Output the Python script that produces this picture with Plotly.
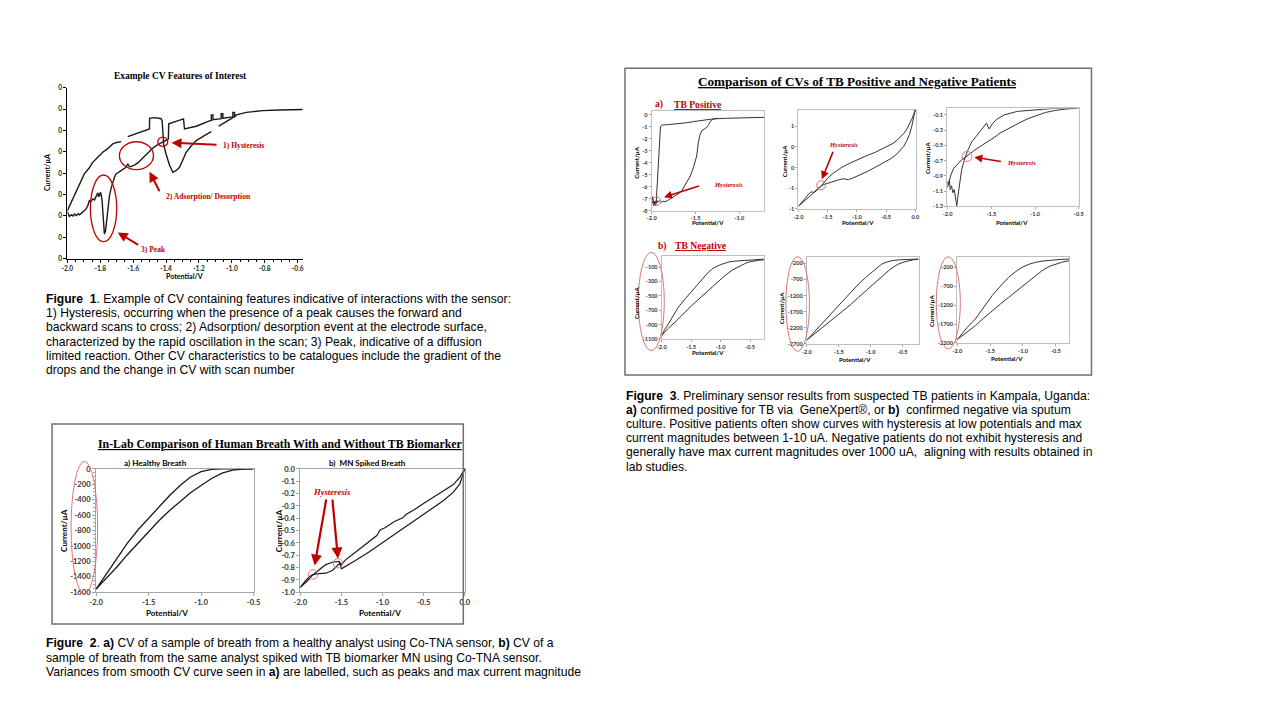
import plotly.graph_objects as go

W, H = 1280, 720
# the photographed page comes out slightly shrunk about its centre; compensate
S, OX, OY = 0.988, 7.7, 3.2
def px(x): return ((x - OX) / S) / W
def py(y): return 1 - ((y - OY) / S) / H
def fs(s): return s / S

# ---------------- DATA ----------------
# Figure 1 : example CV (arbitrary current units, tick labels all "0")
fig1_scan_a_x = [-2.0, -1.985, -1.968, -1.95, -1.937, -1.92, -1.897, -1.87, -1.846, -1.815, -1.785, -1.755,
                 -1.724, -1.70, -1.673, None, -1.633, -1.60, -1.562, -1.53, -1.501, -1.500, -1.47, -1.444,
                 -1.43, -1.424, -1.418, -1.414, -1.40, -1.38, -1.359, -1.34, -1.318, -1.278, -1.25, -1.217,
                 -1.17, -1.125, None, -1.08, -1.04, -1.0, -0.973]
fig1_scan_a_y = [2.25, 2.5, 2.8, 3.05, 3.34, 3.6, 3.97, 4.22, 4.51, 4.75, 4.98, 5.15,
                 5.37, 5.44, 5.48, None, 5.71, 5.8, 5.92, 6.0, 6.07, 6.57, 6.6, 6.57,
                 6.55, 6.45, 5.8, 5.3, 4.9, 4.4, 4.04, 4.12, 4.28, 4.98, 5.25, 5.53,
                 5.75, 5.95, None, 6.2, 6.4, 6.58, 6.70]
fig1_scan_b_x = [-2.0, -1.994, -1.988, -1.975, -1.965, -1.957, -1.945, -1.935, -1.927, -1.915, -1.907, -1.896,
                 -1.886, -1.875, -1.866, -1.856, -1.846, -1.835, -1.825, -1.815, -1.81, -1.805, -1.80, -1.795,
                 -1.789, -1.782, -1.775, -1.768, -1.761, -1.752, -1.744, -1.734, -1.724, -1.714, -1.704, -1.69,
                 -1.673, -1.658, -1.643, -1.633, -1.622, -1.612, -1.592, -1.572, -1.55, -1.531, -1.515, -1.501,
                 -1.48, -1.46, -1.44, -1.42, -1.405, -1.39, -1.386, -1.384, -1.35, -1.318, -1.294, -1.288,
                 -1.217, -1.136, -1.125, -1.125, -1.115, -1.115, -1.095, -1.065, -1.065, -1.055, -1.055, -1.034,
                 -0.994, -0.994, -0.984, -0.984, -0.973, -0.912, -0.811, -0.71, -0.568]
fig1_scan_b_y = [2.20, 2.05, 1.98, 2.05, 2.0, 2.09, 2.02, 2.1, 2.05, 2.12, 2.17, 2.25,
                 2.33, 2.5, 2.72, 2.68, 2.80, 2.75, 2.95, 3.08, 2.9, 2.95, 3.1, 3.03,
                 2.72, 1.9, 1.16, 1.3, 1.86, 2.5, 2.95, 3.3, 3.57, 3.8, 3.97, 4.05,
                 4.12, 4.2, 4.28, 4.44, 4.3, 4.32, 4.38, 4.48, 4.65, 4.82, 4.95, 5.06,
                 5.18, 5.29, 5.38, 5.48, 5.52, 5.57, 5.60, 6.31, 6.4, 6.5, 6.54, 6.07,
                 6.20, 6.45, 6.47, 6.73, 6.73, 6.50, 6.51, 6.55, 6.78, 6.78, 6.57, 6.59,
                 6.64, 6.85, 6.85, 6.68, 6.73, 6.85, 6.93, 6.96, 6.98]
fig1_xticks = [-2.0, -1.8, -1.6, -1.4, -1.2, -1.0, -0.8, -0.6]
fig1_xlabels = ["-2.0", "-1.8", "-1.6", "-1.4", "-1.2", "-1.0", "-0.8", "-0.6"]
fig1_yticks = [0, 1, 2, 3, 4, 5, 6, 7, 8]
fig1_ylabels = ["0"] * 9

# Figure 2a : healthy breath
healthy_x = [-2.0, -1.9, -1.8, -1.7, -1.6, -1.5, -1.4, -1.3, -1.2, -1.1, -1.0, -0.9, -0.8, -0.7, -0.6, -0.5]
healthy_fwd = [-1560, -1360, -1160, -960, -790, -640, -490, -345, -215, -105, -35, -6, 0, 0, 0, 0]
healthy_rev = [-1560, -1420, -1270, -1110, -960, -810, -670, -540, -420, -310, -215, -125, -55, -15, -3, 0]
fig2a_xticks = [-2.0, -1.5, -1.0, -0.5]
fig2a_xlabels = ["-2.0", "-1.5", "-1.0", "-0.5"]
fig2a_yticks = [0, -200, -400, -600, -800, -1000, -1200, -1400, -1600]
fig2a_ylabels = ["0", "-200", "-400", "-600", "-800", "-1000", "-1200", "-1400", "-1600"]

# Figure 2b : MN spiked breath
spiked_a_x = [-2.0, -1.91, -1.85, -1.77, -1.69, -1.61, -1.53, -1.50, -1.45, -1.33, -1.21, -1.07, -1.03,
              -0.97, -0.855, -0.755, -0.716, -0.616, -0.497, -0.378, -0.258, -0.139, -0.06, 0.0]
spiked_a_y = [-0.96, -0.905, -0.86, -0.816, -0.776, -0.757, -0.751, -0.776, -0.738, -0.676, -0.614, -0.541,
              -0.495, -0.478, -0.427, -0.397, -0.370, -0.332, -0.278, -0.23, -0.181, -0.127, -0.068, 0.0]
spiked_b_x = [-2.0, -1.93, -1.87, -1.81, -1.69, -1.61, -1.55, -1.52, -1.50, -1.45, -1.33, -1.17, -1.01,
              -0.815, -0.616, -0.417, -0.258, -0.139, -0.06, 0.0]
spiked_b_y = [-0.96, -0.90, -0.865, -0.851, -0.846, -0.824, -0.784, -0.765, -0.81, -0.792, -0.743, -0.676,
              -0.603, -0.514, -0.424, -0.332, -0.257, -0.189, -0.122, 0.0]
fig2b_xticks = [-2.0, -1.5, -1.0, -0.5, 0.0]
fig2b_xlabels = ["-2.0", "-1.5", "-1.0", "-0.5", "0.0"]
fig2b_yticks = [0.0, -0.1, -0.2, -0.3, -0.4, -0.5, -0.6, -0.7, -0.8, -0.9, -1.0]
fig2b_ylabels = ["0.0", "-0.1", "-0.2", "-0.3", "-0.4", "-0.5", "-0.6", "-0.7", "-0.8", "-0.9", "-1.0"]

# Figure 3a : TB positive patients
pos1_a_x = [-1.99, -1.98, -1.97, -1.96, -1.95, -1.94, -1.93, -1.92, -1.91, -1.90, -1.89, -1.875, -1.80,
            -1.715, -1.60, -1.525, -1.45, -1.373, -1.30, -1.145, -1.0, -0.85, -0.715]
pos1_a_y = [-7.0, -7.5, -7.2, -7.55, -7.5, -6.0, -4.5, -3.0, -1.8, -1.0, -0.87, -0.84, -0.8,
            -0.76, -0.65, -0.56, -0.47, -0.39, -0.33, -0.28, -0.25, -0.22, -0.2]
pos1_b_x = [-1.995, -1.99, -1.985, -1.975, -1.965, -1.955, -1.945, -1.93, -1.91, -1.89, -1.87, -1.85, -1.83,
            -1.76, -1.70, -1.66, -1.60, -1.56, -1.525, -1.487, -1.468, -1.462, -1.458, -1.455, -1.45, -1.43,
            -1.40, -1.373, -1.35, -1.335, -1.30, -1.27, -1.24]
pos1_b_y = [-6.8, -7.4, -6.9, -7.6, -7.2, -7.4, -7.1, -7.3, -7.15, -7.3, -7.2, -7.25, -7.2,
            -6.9, -6.6, -6.38, -5.67, -5.1, -4.41, -3.43, -2.3, -2.1, -1.95, -2.05, -1.7, -1.32,
            -1.15, -1.04, -0.8, -0.56, -0.34, -0.3, -0.28]
pos1_xticks = [-2.0, -1.5, -1.0]
pos1_xlabels = ["-2.0", "-1.5", "-1.0"]
pos1_yticks = [0, -1, -2, -3, -4, -5, -6, -7, -8]
pos1_ylabels = ["0", "-1", "-2", "-3", "-4", "-5", "-6", "-7", "-8"]

pos2_a_x = [-2.0, -1.95, -1.9, -1.83, -1.75, -1.657, -1.57, -1.486, -1.40, -1.257, -1.10, -0.97, -0.83,
            -0.686, -0.55, -0.40, -0.33, -0.257, -0.2, -0.143, -0.1, -0.057, -0.03, 0.0]
pos2_a_y = [-0.935, -0.87, -0.8, -0.72, -0.62, -0.516, -0.38, -0.234, -0.13, 0.008, 0.12, 0.21, 0.29,
            0.37, 0.46, 0.573, 0.64, 0.734, 0.82, 0.935, 1.04, 1.18, 1.28, 1.40]
pos2_b_x = [-2.0, -1.94, -1.886, -1.84, -1.80, -1.77, -1.743, -1.70, -1.657, -1.571, -1.47, -1.371, -1.30,
            -1.229, -1.18, -1.143, -1.05, -0.97, -0.83, -0.686, -0.55, -0.429, -0.33, -0.257, -0.2, -0.143,
            -0.1, -0.057, -0.03, 0.0]
pos2_b_y = [-0.935, -0.84, -0.758, -0.66, -0.6, -0.585, -0.6, -0.55, -0.49, -0.41, -0.36, -0.32, -0.29,
            -0.27, -0.28, -0.29, -0.24, -0.194, -0.1, 0.008, 0.11, 0.21, 0.31, 0.411, 0.51, 0.653,
            0.8, 1.016, 1.2, 1.40]
pos2_xticks = [-2.0, -1.5, -1.0, -0.5, 0.0]
pos2_xlabels = ["-2.0", "-1.5", "-1.0", "-0.5", "0.0"]
pos2_yticks = [1.0, 0.5, 0.0, -0.5, -1.0]
pos2_ylabels = ["1", "0", "0", "-1", "-1"]

pos3_a_x = [-2.0, -1.99, -1.98, -1.97, -1.955, -1.94, -1.925, -1.91, -1.895, -1.88, -1.86, -1.84, -1.80,
            -1.76, -1.72, -1.66, -1.60, -1.555, -1.54, -1.525, -1.51, -1.49, -1.44, -1.35, -1.20, -1.0,
            -0.8, -0.5]
pos3_a_y = [-0.98, -1.02, -0.95, -1.08, -1.03, -1.12, -1.08, -1.20, -1.29, -1.15, -0.95, -0.82, -0.66,
            -0.54, -0.45, -0.36, -0.28, -0.21, -0.25, -0.285, -0.26, -0.22, -0.16, -0.10, -0.055, -0.035,
            -0.018, -0.01]
pos3_b_x = [-2.0, -1.98, -1.96, -1.93, -1.90, -1.87, -1.83, -1.80, -1.76, -1.70, -1.62, -1.55, -1.47,
            -1.40, -1.32, -1.25, -1.17, -1.08, -0.98, -0.88, -0.78, -0.65, -0.5]
pos3_b_y = [-1.05, -0.95, -0.88, -0.80, -0.76, -0.72, -0.68, -0.66, -0.62, -0.57, -0.51, -0.46, -0.40,
            -0.34, -0.29, -0.24, -0.20, -0.15, -0.11, -0.07, -0.045, -0.025, -0.013]
pos3_xticks = [-2.0, -1.5, -1.0, -0.5]
pos3_xlabels = ["-2.0", "-1.5", "-1.0", "-0.5"]
pos3_yticks = [-0.1, -0.3, -0.5, -0.7, -0.9, -1.1, -1.3]
pos3_ylabels = ["-0.1", "-0.3", "-0.5", "-0.7", "-0.9", "-1.1", "-1.3"]

# Figure 3b : TB negative patients
neg1_a_x = [-2.0, -1.95, -1.887, -1.80, -1.717, -1.60, -1.49, -1.377, -1.30, -1.208, -1.15, -1.094, -1.0,
            -0.925, -0.85, -0.755, -0.6, -0.472, -0.35, -0.257]
neg1_a_y = [-1053, -970, -891, -775, -658, -540, -435, -333, -250, -170, -130, -100, -65,
            -40, -25, -16, -5, 2, 8, 12]
neg1_b_x = [-2.0, -1.9, -1.774, -1.65, -1.49, -1.35, -1.208, -1.05, -0.925, -0.80, -0.698, -0.6, -0.53,
            -0.45, -0.35, -0.257]
neg1_b_y = [-1053, -960, -867, -760, -635, -530, -426, -310, -216, -140, -91, -55, -30, -14, -3, 2]
neg1_xticks = [-2.0, -1.5, -1.0, -0.5]
neg1_xlabels = ["-2.0", "-1.5", "-1.0", "-0.5"]
neg1_yticks = [-100, -300, -500, -700, -900, -1100]
neg1_ylabels = ["-100", "-300", "-500", "-700", "-900", "-1100"]

neg2_a_x = [-2.0, -1.85, -1.713, -1.58, -1.451, -1.32, -1.19, -1.08, -0.981, -0.90, -0.824, -0.75, -0.667,
            -0.55, -0.458, -0.35, -0.249]
neg2_a_y = [-2580, -2260, -1977, -1690, -1409, -1120, -840, -640, -479, -340, -221, -160, -117,
            -90, -76, -70, -66]
neg2_b_x = [-2.0, -1.85, -1.713, -1.58, -1.451, -1.32, -1.19, -1.06, -0.928, -0.82, -0.719, -0.64, -0.562,
            -0.48, -0.406, -0.33, -0.249]
neg2_b_y = [-2580, -2340, -2132, -1925, -1719, -1490, -1254, -1020, -789, -590, -427, -310, -221,
            -160, -117, -90, -76]
neg2_xticks = [-2.0, -1.5, -1.0, -0.5]
neg2_xlabels = ["-2.0", "-1.5", "-1.0", "-0.5"]
neg2_yticks = [-200, -700, -1200, -1700, -2200, -2700]
neg2_ylabels = ["-200", "-700", "-1200", "-1700", "-2200", "-2700"]

neg3_a_x = [-2.0, -1.85, -1.725, -1.60, -1.471, -1.34, -1.217, -1.11, -1.014, -0.91, -0.81, -0.68, -0.556,
            -0.42, -0.292]
neg3_a_y = [-2110, -1790, -1566, -1270, -949, -690, -464, -310, -200, -120, -68, -30, -6, 10, 20]
neg3_b_x = [-2.0, -1.85, -1.725, -1.60, -1.471, -1.34, -1.217, -1.09, -0.963, -0.84, -0.709, -0.60, -0.505,
            -0.40, -0.292]
neg3_b_y = [-2110, -1920, -1742, -1545, -1345, -1165, -993, -815, -641, -460, -288, -175, -112, -60, -24]
neg3_xticks = [-2.0, -1.5, -1.0, -0.5]
neg3_xlabels = ["-2.0", "-1.5", "-1.0", "-0.5"]
neg3_yticks = [-200, -700, -1200, -1700, -2200]
neg3_ylabels = ["-200", "-700", "-1200", "-1700", "-2200"]

# captions
caption1_lines = [
    "<b>Figure  1</b>. Example of CV containing features indicative of interactions with the sensor:",
    "1) Hysteresis, occurring when the presence of a peak causes the forward and",
    "backward scans to cross; 2) Adsorption/ desorption event at the electrode surface,",
    "characterized by the rapid oscillation in the scan; 3) Peak, indicative of a diffusion",
    "limited reaction. Other CV characteristics to be catalogues include the gradient of the",
    "drops and the change in CV with scan number",
]
caption2_lines = [
    "<b>Figure  2</b>. <b>a)</b> CV of a sample of breath from a healthy analyst using Co-TNA sensor, <b>b)</b> CV of a",
    "sample of breath from the same analyst spiked with TB biomarker MN using Co-TNA sensor.",
    "Variances from smooth CV curve seen in <b>a)</b> are labelled, such as peaks and max current magnitude",
]
caption3_lines = [
    "<b>Figure  3</b>. Preliminary sensor results from suspected TB patients in Kampala, Uganda:",
    "<b>a)</b> confirmed positive for TB via  GeneXpert®, or <b>b)</b>  confirmed negative via sputum",
    "culture. Positive patients often show curves with hysteresis at low potentials and max",
    "current magnitudes between 1-10 uA. Negative patients do not exhibit hysteresis and",
    "generally have max current magnitudes over 1000 uA,  aligning with results obtained in",
    "lab studies.",
]

# ---------------- FIGURE ----------------
fig = go.Figure()
layout = dict(width=W, height=H, margin=dict(l=0, r=0, t=0, b=0), paper_bgcolor="white",
              plot_bgcolor="white", showlegend=False)

RED = "#C00000"
PINK = "#E07575"
SERIF = "Liberation Serif"
SANS = "Liberation Sans"
LAB = "Lato"

subplots = [
    ((68, 87, 303, 258), [-2.0, -0.57], [0, 8], fig1_xticks, fig1_xlabels, fig1_yticks, fig1_ylabels, "f1"),
    ((96.7, 468.3, 254, 591.7), [-2.0, -0.5], [-1600, 0], fig2a_xticks, fig2a_xlabels, fig2a_yticks, fig2a_ylabels, "f2"),
    ((300.7, 468.3, 465, 591.7), [-2.0, 0.0], [-1.0, 0.0], fig2b_xticks, fig2b_xlabels, fig2b_yticks, fig2b_ylabels, "f2"),
    ((651.7, 110, 764.3, 210), [-2.0, -0.715], [-8, 0.35], pos1_xticks, pos1_xlabels, pos1_yticks, pos1_ylabels, "f3"),
    ((798.3, 109, 915.7, 208.3), [-2.0, 0.012], [-1.0, 1.40], pos2_xticks, pos2_xlabels, pos2_yticks, pos2_ylabels, "f3"),
    ((946.7, 107.7, 1078.3, 205.7), [-2.007, -0.5], [-1.3, -0.017], pos3_xticks, pos3_xlabels, pos3_yticks, pos3_ylabels, "f3"),
    ((661.7, 255, 764.3, 338.3), [-2.0, -0.257], [-1100, 60], neg1_xticks, neg1_xlabels, neg1_yticks, neg1_ylabels, "f3"),
    ((806.7, 256, 918.3, 343.3), [-2.0, -0.249], [-2700, 7], neg2_xticks, neg2_xlabels, neg2_yticks, neg2_ylabels, "f3"),
    ((956.7, 256, 1069, 342.3), [-2.005, -0.292], [-2200, 82], neg3_xticks, neg3_xlabels, neg3_yticks, neg3_ylabels, "f3"),
]

for i, (box, xr, yr, xt, xl, yt, yl, st) in enumerate(subplots):
    n = "" if i == 0 else str(i + 1)
    l, t, r, b = box
    if st == "f1":
        common = dict(showline=True, linecolor="black", linewidth=1, mirror=False, ticks="outside",
                      ticklen=3, tickcolor="black", showgrid=False, zeroline=False,
                      tickfont=dict(family=LAB, size=fs(6.5), color="#222", weight="bold"))
    elif st == "f2":
        common = dict(showline=True, linecolor="#A6A6A6", linewidth=1, mirror=True, ticks="outside",
                      ticklen=3, tickcolor="#A6A6A6", showgrid=False, zeroline=False,
                      tickfont=dict(family=LAB, size=fs(7.5), color="#333", weight="bold"))
    else:
        common = dict(showline=True, linecolor="#BFBFBF", linewidth=1, mirror=True, ticks="outside",
                      ticklen=2, tickcolor="#A6A6A6", showgrid=False, zeroline=False,
                      tickfont=dict(family=LAB, size=fs(5.5), color="#333", weight="bold"))
    xa = dict(common, domain=[px(l), px(r)], range=xr, tickvals=xt, ticktext=xl, anchor="y" + n)
    ya = dict(common, domain=[py(b), py(t)], range=yr, tickvals=yt, ticktext=yl, anchor="x" + n)
    if st == "f1":
        xa["minor"] = dict(ticks="outside", ticklen=2, dtick=0.05, tickcolor="black")
    if i == 1:
        ya["minor"] = dict(ticks="outside", ticklen=2, dtick=50, tickcolor="#A6A6A6")
    layout["xaxis" + n] = xa
    layout["yaxis" + n] = ya

def add_line(xs, ys, k, width=1.2, color="#1a1a1a"):
    n = "" if k == 1 else str(k)
    fig.add_trace(go.Scatter(x=xs, y=ys, mode="lines", line=dict(color=color, width=width),
                             xaxis="x" + n, yaxis="y" + n, connectgaps=False, hoverinfo="skip"))

add_line(fig1_scan_a_x, fig1_scan_a_y, 1, 1.4)
add_line(fig1_scan_b_x, fig1_scan_b_y, 1, 1.4)
add_line(healthy_x, healthy_fwd, 2, 1.3)
add_line(healthy_x, healthy_rev, 2, 1.3)
add_line(spiked_a_x, spiked_a_y, 3, 1.2)
add_line(spiked_b_x, spiked_b_y, 3, 1.2)
add_line(pos1_a_x, pos1_a_y, 4, 1.0, "#333")
add_line(pos1_b_x, pos1_b_y, 4, 1.0, "#333")
add_line(pos2_a_x, pos2_a_y, 5, 1.0, "#333")
add_line(pos2_b_x, pos2_b_y, 5, 1.0, "#333")
add_line(pos3_a_x, pos3_a_y, 6, 1.0, "#333")
add_line(pos3_b_x, pos3_b_y, 6, 1.0, "#333")
add_line(neg1_a_x, neg1_a_y, 7, 1.0, "#333")
add_line(neg1_b_x, neg1_b_y, 7, 1.0, "#333")
add_line(neg2_a_x, neg2_a_y, 8, 1.0, "#333")
add_line(neg2_b_x, neg2_b_y, 8, 1.0, "#333")
add_line(neg3_a_x, neg3_a_y, 9, 1.0, "#333")
add_line(neg3_b_x, neg3_b_y, 9, 1.0, "#333")

annotations = []
shapes = []

def text(x, y, s, size, family=SANS, color="black", xanchor="center", yanchor="middle", weight="normal",
         style="normal", under=False, angle=0, align="left"):
    f = dict(family=family, size=fs(size), color=color, weight=weight, style=style)
    if under:
        f["lineposition"] = "under"
    annotations.append(dict(x=px(x), y=py(y), xref="paper", yref="paper", text=s, showarrow=False,
                            xanchor=xanchor, yanchor=yanchor, font=f, textangle=angle, align=align))

def arrow(tx, ty, hx, hy, color=RED, width=2.0, size=1.0):
    annotations.append(dict(x=px(hx), y=py(hy), xref="paper", yref="paper", text="", showarrow=True,
                            ax=(tx - hx) / S, ay=(ty - hy) / S, axref="pixel", ayref="pixel", arrowhead=2,
                            arrowsize=size, arrowwidth=width, arrowcolor=color))

def ellipse(l, t, r, b, color=RED, width=1.2):
    shapes.append(dict(type="circle", xref="paper", yref="paper", x0=px(l), x1=px(r), y0=py(b), y1=py(t),
                       line=dict(color=color, width=width)))

def rect(l, t, r, b, color="#707070", width=1.5):
    shapes.append(dict(type="rect", xref="paper", yref="paper", x0=px(l), x1=px(r), y0=py(b), y1=py(t),
                       line=dict(color=color, width=width)))

def caption(x, ys, lines, size=12):
    for yy, s in zip(ys, lines):
        text(x, yy, s, size, SANS, "black", "left", "middle")

# ---- Figure 1 ----
text(181, 75, "Example CV Features of Interest", 9.3, SERIF, weight="bold")
text(185, 276, "Potential/V", 7, LAB, weight="bold")
text(48, 172, "Current/µA", 7, LAB, weight="bold", angle=-90)
ellipse(158.3, 136.3, 168.3, 145.7, RED, 1.3)
ellipse(120, 141, 154, 169, RED, 1.3)
ellipse(91, 174.3, 117.3, 241, RED, 1.3)
arrow(218, 144, 172, 142)
arrow(160.7, 191.7, 150, 171)
arrow(140, 245, 118.3, 231.7)
text(221.7, 145, "1) Hysteresis", 7.5, SERIF, RED, "left", weight="bold")
text(165, 196, "2) Adsorption/ Desorption", 7.5, SERIF, RED, "left", weight="bold")
text(140, 248.5, "3) Peak", 7.5, SERIF, RED, "left", weight="bold")
caption(45, [298.3, 312.5, 326.7, 340.9, 355.1, 369.3], caption1_lines)

# ---- Figure 2 ----
rect(52.7, 423.3, 463.5, 623.5)
text(280, 443, "In-Lab Comparison of Human Breath With and Without TB Biomarker", 11.7, SERIF,
     weight="bold", under=True)
text(156, 462, "a) Healthy Breath", 8, LAB, weight="bold")
text(368, 462, "b)  MN Spiked Breath", 8, LAB, weight="bold")
text(168, 612.7, "Potential/V", 8, LAB, weight="bold")
text(380, 612.7, "Potential/V", 8, LAB, weight="bold")
text(64, 530, "Current/µA", 8, LAB, weight="bold", angle=-90)
text(279, 530, "Current/µA", 8, LAB, weight="bold", angle=-90)
ellipse(71.7, 460.7, 98.3, 593.3, PINK, 1.0)
ellipse(308.6, 569.3, 318, 578.7, PINK, 1.0)
ellipse(333.6, 558, 343, 567.4, PINK, 1.0)
arrow(326.7, 498.3, 315, 565, RED, 2.2)
arrow(332.7, 498.3, 338.3, 558, RED, 2.2)
text(332.7, 491, "Hysteresis", 8.5, SERIF, RED, weight="bold", style="italic")
caption(45, [643, 657.5, 672], caption2_lines)

# ---- Figure 3 ----
rect(625, 67.5, 1091, 374.5)
text(857, 81, "Comparison of CVs of TB Positive and Negative Patients", 13, SERIF, weight="bold", under=True)
text(653.3, 103.3, "a)", 9.5, SERIF, RED, "left", weight="bold")
text(671.7, 103.3, "TB Positive", 9.5, SERIF, RED, "left", weight="bold", under=True)
text(655.7, 245, "b)", 9.5, SERIF, RED, "left", weight="bold")
text(673.3, 245, "TB Negative", 9.5, SERIF, RED, "left", weight="bold", under=True)
for (cx, cy) in [(708, 222.3), (857.7, 222.3), (1012, 222.3), (708.3, 352.3), (855, 359.3), (1006.7, 358.3)]:
    text(cx, cy, "Potential/V", 6, LAB, weight="bold")
for (cx, cy) in [(636.3, 161.7), (784.3, 160), (927, 157), (636.7, 301.7), (781.7, 306.7), (931, 310)]:
    text(cx, cy, "Current/µA", 6, LAB, weight="bold", angle=-90)
ellipse(652.5, 196, 660.5, 205, PINK, 1.0)
arrow(700, 185, 664, 196.5, RED, 1.6)
text(711.7, 183.5, "Hysteresis", 6.5, SERIF, RED, "left", weight="bold", style="italic")
ellipse(816.5, 180, 825.5, 189, PINK, 1.0)
arrow(833.3, 150, 821.7, 178.5, RED, 1.6)
text(843.3, 143.5, "Hysteresis", 6.5, SERIF, RED, weight="bold", style="italic")
ellipse(961.7, 150.7, 971.7, 160.7, PINK, 1.0)
arrow(1001.7, 161, 974, 156.5, RED, 1.6)
text(1021, 162, "Hysteresis", 6.5, SERIF, RED, weight="bold", style="italic")
ellipse(638.3, 251.7, 664.3, 350, PINK, 1.0)
ellipse(785.7, 256, 809.3, 350.7, PINK, 1.0)
ellipse(936, 256, 960, 348.3, PINK, 1.0)
caption(624, [395, 409.2, 423.4, 437.6, 451.8, 466], caption3_lines)

layout["annotations"] = annotations
layout["shapes"] = shapes
fig.update_layout(**layout)

post = ("var h=document.documentElement;h.style.margin='0';h.style.padding='0';h.style.overflow='hidden';"
        "document.body.style.margin='0';document.body.style.padding='0';document.body.style.overflow='hidden';"
        "var d=document.getElementById('{plot_id}');d.style.position='absolute';d.style.left='0px';d.style.top='0px';")
fig.write_html("out.html", config={"displayModeBar": False}, post_script=post)
